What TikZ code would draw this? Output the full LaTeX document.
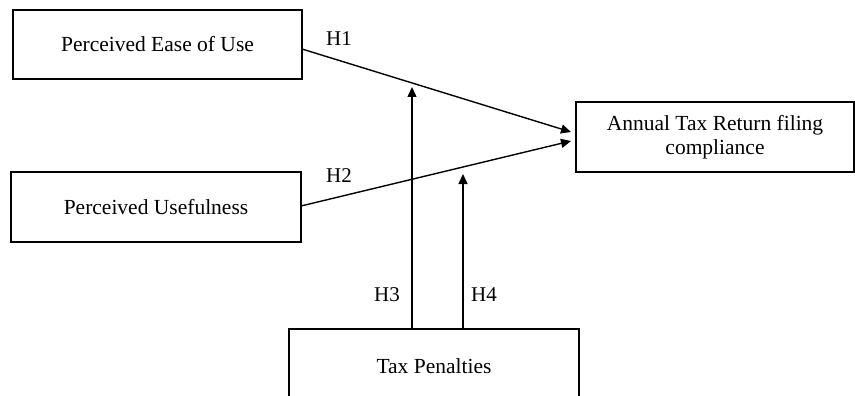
\documentclass[tikz,border=0pt]{standalone}
\usepackage{fontspec}
\setmainfont{Liberation Serif}
\usetikzlibrary{arrows.meta}
\begin{document}
\begin{tikzpicture}[x=1pt,y=-1pt,
  box/.style={draw,line width=1.5pt,inner sep=0pt,font=\fontsize{21.5}{24}\selectfont,align=center},
  conn/.style={line width=1.4pt,-{Triangle[length=10pt,width=9pt]}},
  hlab/.style={font=\fontsize{21}{24}\selectfont,inner sep=0pt}]
\useasboundingbox (0,0) rectangle (855,396);
\clip (0,0) rectangle (855,396);
\node[box,minimum width=289pt,minimum height=69pt] (peou) at (157.5,44.5) {Perceived Ease of Use};
\node[box,minimum width=290pt,minimum height=70pt] (pu) at (156,207) {Perceived Usefulness};
\node[box,minimum width=278pt,minimum height=70pt] (atr) at (715,137) {Annual Tax Return filing\\compliance};
\node[box,minimum width=290pt,minimum height=74pt] (tp) at (434,366) {Tax Penalties};
\coordinate (s1) at (302,49);
\coordinate (e1) at (571,132);
\coordinate (s2) at (301,206);
\coordinate (e2) at (571,141);
\coordinate (s3) at (412,329);
\coordinate (e3) at (412,87);
\coordinate (s4) at (463,329);
\coordinate (e4) at (463,174);
\draw[conn] (s1) -- (e1);
\draw[conn] (s2) -- (e2);
\draw[conn] (s3) -- (e3);
\draw[conn] (s4) -- (e4);
\node[hlab] (h1) at (339,39) {H1};
\node[hlab] (h2) at (339,176) {H2};
\node[hlab] (h3) at (387,295) {H3};
\node[hlab] (h4) at (484,295) {H4};
\end{tikzpicture}
\end{document}
